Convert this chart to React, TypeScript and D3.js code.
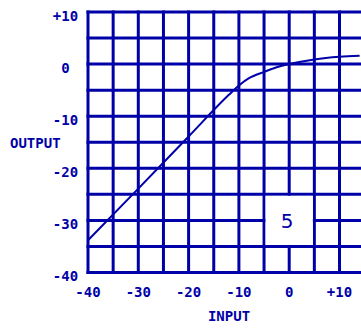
import { useEffect, useRef } from 'react'
import * as d3 from 'd3'

// curve values (input dB -> output dB)
const inputVals = [-40, -30, -20, -12, -10, -8, -5, -2.5, 0, 5, 10, 14]
const outputVals = [-33.8, -23.9, -13.9, -5.9, -4.1, -2.7, -1.5, -0.6, 0, 0.9, 1.4, 1.6]

const gridX = [-40, -35, -30, -25, -20, -15, -10, -5, 0, 5, 10]
const gridY = [10, 5, 0, -5, -10, -15, -20, -25, -30, -35, -40]
const xTicks = [-40, -30, -20, -10, 0, 10]
const yTicks = [10, 0, -10, -20, -30, -40]
const fmt = (v: number) => (v > 0 ? `+${v}` : `${v}`)

const BLUE = '#0000a8'
const FONT = '"DejaVu Sans Mono", monospace'

const CompressorChart = () => {
  const ref = useRef<SVGSVGElement | null>(null)

  useEffect(() => {
    const svg = d3.select(ref.current)
    svg.selectAll('*').remove()

    const W = 361
    const x = d3.scaleLinear().domain([-40, 10]).range([88, 339.5])
    const y = d3.scaleLinear().domain([10, -40]).range([12, 272.5])

    // horizontal grid lines run off the right edge
    svg
      .selectAll('.hgrid')
      .data(gridY)
      .enter()
      .append('line')
      .attr('x1', x(-40) - 1.5)
      .attr('x2', W)
      .attr('y1', (d) => y(d))
      .attr('y2', (d) => y(d))
      .attr('stroke', BLUE)
      .attr('stroke-width', 3)

    svg
      .selectAll('.vgrid')
      .data(gridX)
      .enter()
      .append('line')
      .attr('x1', (d) => x(d))
      .attr('x2', (d) => x(d))
      .attr('y1', y(10) - 1.5)
      .attr('y2', y(-40) + 1.5)
      .attr('stroke', BLUE)
      .attr('stroke-width', 3)

    // transfer curve
    const line = d3
      .line<number>()
      .x((_, i) => x(inputVals[i]))
      .y((d) => y(d))
      .curve(d3.curveMonotoneX)

    svg
      .append('path')
      .datum(outputVals)
      .attr('fill', 'none')
      .attr('stroke', BLUE)
      .attr('stroke-width', 2)
      .attr('d', line)

    // white label box
    svg
      .append('rect')
      .attr('x', x(-5) + 1.5)
      .attr('y', y(-25) + 1.5)
      .attr('width', x(5) - x(-5) - 3)
      .attr('height', y(-35) - y(-25) - 3)
      .attr('fill', '#fff')

    svg
      .append('text')
      .attr('x', (x(-5) + x(5)) / 2 - 2)
      .attr('y', y(-30) + 8)
      .attr('text-anchor', 'middle')
      .attr('font-family', '"DejaVu Sans", sans-serif')
      .attr('font-size', 20)
      .attr('fill', BLUE)
      .text('5')

    // tick labels
    svg
      .selectAll('.ylab')
      .data(yTicks)
      .enter()
      .append('text')
      .attr('x', 65.5)
      .attr('y', (d) => y(d) + 8.5)
      .attr('text-anchor', 'middle')
      .attr('font-family', FONT)
      .attr('font-weight', 'bold')
      .attr('font-size', 14)
      .attr('fill', BLUE)
      .text(fmt)

    svg
      .selectAll('.xlab')
      .data(xTicks)
      .enter()
      .append('text')
      .attr('x', (d) => x(d))
      .attr('y', 297)
      .attr('text-anchor', 'middle')
      .attr('font-family', FONT)
      .attr('font-weight', 'bold')
      .attr('font-size', 14)
      .attr('fill', BLUE)
      .text(fmt)

    // axis titles
    svg
      .append('text')
      .attr('x', 229)
      .attr('y', 321)
      .attr('text-anchor', 'middle')
      .attr('font-family', FONT)
      .attr('font-weight', 'bold')
      .attr('font-size', 14)
      .attr('fill', BLUE)
      .text('INPUT')

    svg
      .append('text')
      .attr('x', 10)
      .attr('y', 148)
      .attr('font-family', FONT)
      .attr('font-weight', 'bold')
      .attr('font-size', 14)
      .attr('fill', BLUE)
      .text('OUTPUT')
  }, [])

  return <svg ref={ref} width={361} height={330} style={{ position: 'absolute', left: 0, top: 0, background: '#fff' }} />
}

export default function App() {
  return <CompressorChart />
}
